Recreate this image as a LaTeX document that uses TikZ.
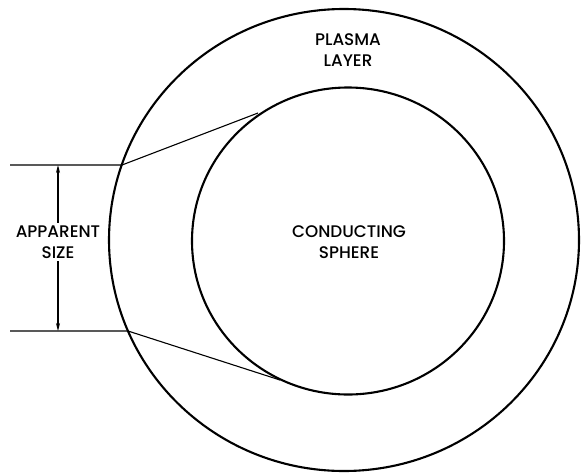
\documentclass[tikz,border=0pt]{standalone}
\usepackage{fontspec}
\setmainfont{Poppins}[UprightFont=* Medium]
\usetikzlibrary{shapes.geometric,arrows.meta}
\begin{document}
\begin{tikzpicture}[x=1pt,y=-1pt,
  ring/.style={draw, ellipse, line width=2.1pt, inner sep=0pt},
  thin/.style={line width=1.1pt},
  lbl/.style={font=\fontsize{16.8}{20.5}\selectfont, align=center, inner sep=0pt},
  dim/.style={line width=1.1pt, -{Stealth[length=8pt,width=4pt]}}]
\useasboundingbox (0,0) rectangle (581,472);
\node[ring, minimum width=470pt, minimum height=462pt] (outer) at (344,240) {};
\node[ring, minimum width=312pt, minimum height=307pt] (inner) at (348,241) {};
\coordinate (tl) at (10,165);
\coordinate (bl) at (10,331);
\coordinate (to) at (122,165);
\coordinate (bo) at (128,331);
\coordinate (ti) at (258,113);
\coordinate (bi) at (280,380);
\draw[thin] (tl) -- (to) -- (ti);
\draw[thin] (bl) -- (bo) -- (bi);
\node[lbl] (plasma) at (348,50) {PLASMA\\LAYER};
\node[lbl] (app) at (58,242) {APPARENT\\SIZE};
\node[lbl] (cond) at (349,242) {CONDUCTING\\SPHERE};
\coordinate (at) at (58,165);
\coordinate (ab) at (58,331);
\draw[dim] (app.north) ++(0,-3) -- (at);
\draw[dim] (app.south) ++(0,3) -- (ab);
\end{tikzpicture}
\end{document}
